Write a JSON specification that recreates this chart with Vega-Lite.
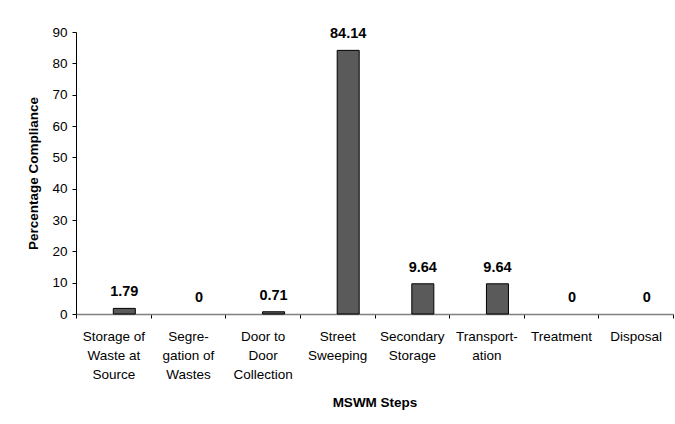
{
  "$schema": "https://vega.github.io/schema/vega-lite/v6.json",
  "autosize": "none",
  "padding": {"left": 76, "top": 32, "right": 2, "bottom": 110},
  "width": 597,
  "height": 282,
  "background": "white",
  "config": {
    "view": {"stroke": null},
    "font": "Liberation Sans",
    "axis": {"labelFont": "Liberation Sans", "titleFont": "Liberation Sans", "labelColor": "black", "titleColor": "black", "grid": false}
  },
  "data": {
    "values": [
      {"step": "Storage of|Waste at|Source", "value": 1.79},
      {"step": "Segre-|gation of|Wastes", "value": 0},
      {"step": "Door to|Door|Collection", "value": 0.71},
      {"step": "Street|Sweeping", "value": 84.14},
      {"step": "Secondary|Storage", "value": 9.64},
      {"step": "Transport-|ation", "value": 9.64},
      {"step": "Treatment", "value": 0},
      {"step": "Disposal", "value": 0}
    ]
  },
  "encoding": {
    "x": {
      "field": "step", "type": "nominal",
      "sort": ["Storage of|Waste at|Source", "Segre-|gation of|Wastes", "Door to|Door|Collection", "Street|Sweeping", "Secondary|Storage", "Transport-|ation", "Treatment", "Disposal"],
      "scale": {"paddingInner": 0, "paddingOuter": 0},
      "axis": {
        "title": "MSWM Steps", "titleFontSize": 13.5, "titleFontWeight": "bold", "titlePadding": 15,
        "labelAngle": 0, "labelFontSize": 13.5, "labelLineHeight": 19, "labelPadding": 11,
        "labelExpr": "split(datum.label, '|')",
        "tickBand": "extent", "tickSize": 4, "tickColor": "black",
        "domainColor": "#808080", "domainWidth": 1.5
      }
    },
    "y": {
      "field": "value", "type": "quantitative",
      "scale": {"domain": [0, 90], "nice": false},
      "axis": {
        "title": "Percentage Compliance", "titleFontSize": 13.5, "titleFontWeight": "bold", "titlePadding": 11,
        "values": [0, 10, 20, 30, 40, 50, 60, 70, 80, 90],
        "labelFontSize": 13.5, "labelPadding": 5, "tickSize": 4, "tickColor": "black",
        "domainColor": "black"
      }
    }
  },
  "layer": [
    {
      "transform": [{"filter": "datum.value > 0"}],
      "mark": {"type": "bar", "width": 22, "xOffset": 11, "fill": "#5a5a5a", "stroke": "black", "strokeWidth": 1}
    },
    {
      "mark": {"type": "text", "xOffset": 11, "dy": -9, "baseline": "bottom", "fontSize": 14.5, "fontWeight": "bold", "color": "black"},
      "encoding": {"text": {"field": "value", "type": "nominal"}}
    }
  ]
}
